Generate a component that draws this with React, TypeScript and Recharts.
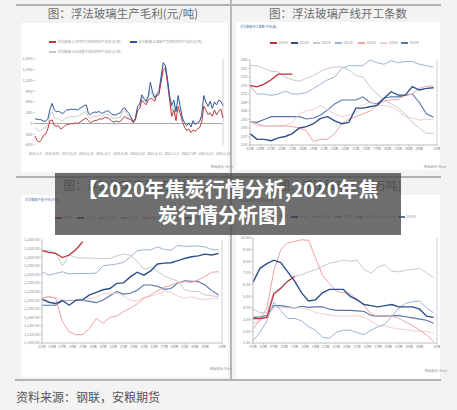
import React from 'react';
import { LineChart, Line, XAxis, YAxis, ReferenceLine } from 'recharts';

// ---- 图1 生产毛利 (元/吨), 每个点约4.75周 ----
const profitDates = ['2016/1/8', '2016/9/30', '2017/6/23', '2018/3/16', '2018/12/7', '2019/8/30', '2020/5/22', '2021/2/12', '2021/11/5', '2022/7/29', '2023/4/21', '2024/1/12'];
const profitNames = ['浮法玻璃:以天然气为燃料的生产毛利(元/吨)', '浮法玻璃:以煤制气为燃料的生产毛利(元/吨)', '浮法玻璃:以石油焦为燃料的生产毛利(元/吨)'];
const profitGas = [
    -350, -480, -520, -450, -330, -300, -150, 80, 100, -50,
    -80, -60, -150, -120, -60, -30, -20, 0, -10, 20,
    0, 40, 80, 120, 150, 80, 20, 60, 80, 90,
    130, 120, 150, 170, 160, 120, 60, 40, 70, 50,
    60, 130, 200, 150, 130, 100, 20, 100, 350, 420,
    650, 580, 520, 650, 700, 680, 620, 780, 800, 1150,
    1480, 1550, 1150, 650, 200, 380, 80, 480, 280, 60,
    -100, -200, -150, -250, -180, -220, -150, -120, 30, 480,
    380, 250, 300, 200, 380, 240, 350, 400, 150,
];
const profitCoal = [
    130, 120, 110, 100, 70, 60, 130, 390, 560, 380,
    330, 340, 310, 280, 330, 390, 380, 400, 390, 400,
    380, 420, 460, 500, 520, 280, 250, 300, 320, 310,
    340, 280, 300, 330, 360, 320, 250, 240, 240, 280,
    300, 410, 440, 350, 280, 170, 50, 150, 480, 540,
    800, 700, 620, 760, 1150, 880, 720, 820, 900, 1300,
    1700, 1620, 1250, 780, 500, 650, 330, 780, 470, 150,
    30, -60, 20, -100, 80, -30, 30, 50, 230, 780,
    600, 480, 620, 420, 600, 520, 650, 620, 500,
];
const profitPetcoke = [
    -110, -180, -205, -175, -130, -120, -10, 235, 330, 165,
    125, 140, 80, 80, 135, 180, 180, 200, 190, 210,
    190, 230, 270, 310, 335, 180, 135, 180, 200, 200,
    235, 200, 225, 250, 260, 220, 155, 140, 155, 165,
    180, 330, 380, 250, 200, 135, 40, 125, 415, 480,
    725, 640, 570, 705, 925, 780, 670, 800, 850, 1225,
    1590, 1585, 1200, 715, 350, 515, 205,
];
const profitTicks = [-600, -300, 0, 300, 600, 900, 1200, 1500, 1800];

// ---- 周度数据 (奇数周) ----
const weeks = [1, 3, 5, 7, 9, 11, 13, 15, 17, 19, 21, 23, 25, 27, 29, 31, 33, 35, 37, 39, 41, 43, 45, 47, 49, 51, 53];
const weekTicks = [1, 4, 7, 10, 13, 16, 19, 22, 25, 28, 31, 34, 37, 40, 43, 46, 49, 54];
const years = ['2024年', '2023年', '2022年', '2021年', '2020年', '2019年', '2018年'];
const yearColors = ['#b8323a', '#2e4e8a', '#c9c9c9', '#9fb2d4', '#eda3a6', '#f4cfd0', '#5675a9'];
const yearWidths = [1.3, 1.4, 1, 1, 1, 1, 1.1];

// 图2 产线开工条数
const lines2024 = [255, 254.5, 255.5, 257, 259, 259, 259];
const lines2023 = [238, 236, 236, 235.5, 236.5, 237, 238, 240, 240.5, 241.5, 243.4, 244, 242.5, 241.5, 242, 247, 247, 247.5, 248, 250.5, 252.8, 251.6, 251.6, 254.6, 253.4, 254, 254.2];
const lines2022 = [262, 262, 261, 260, 259.8, 258, 257, 256.5, 257.5, 258.5, 260, 261, 261.5, 261.6, 260.5, 258.5, 258, 254.6, 252, 249.9, 248.5, 247, 245, 242, 240, 238.1, 238.1];
const lines2021 = [254.8, 252, 252, 251.5, 252, 253, 252, 252, 252.5, 254, 255.5, 257, 258, 261, 262, 262, 262, 264, 263, 262.5, 263.8, 263, 263.5, 263.5, 262.5, 262, 261.5];
const lines2020 = [242.2, 241.5, 240.7, 240.7, 240.7, 240.7, 240.5, 240, 239, 235.2, 236, 236, 238, 241.5, 243, 244, 245, 246, 248, 249.5, 250, 250, 251.6, 252, 254, 254.8, 254.8];
const lines2019 = [242.2, 240.8, 240.7, 240.7, 240.7, 241, 241.8, 245, 246, 246.5, 247.8, 246.5, 245, 244, 244.5, 245.5, 248, 249.3, 248, 248, 247.5, 246, 244, 243.5, 242.8, 243, 243];
const lines2018 = [242.2, 242, 243, 244, 244, 244, 244, 244, 243.2, 243.5, 244.6, 246.4, 248.5, 249.9, 249.9, 249.9, 251, 249, 248.5, 250.5, 251, 251, 251.5, 252, 249, 245, 243.8];
const linesTicks = [234, 237, 240, 243, 246, 249, 252, 255, 258, 261, 264];

// 图3 周度产量
const output2024 = [1315, 1311, 1309, 1299, 1305, 1318, 1336];
const output2023 = [1202, 1195, 1192, 1199, 1188, 1200, 1201, 1212, 1218, 1224, 1227, 1239, 1240, 1254, 1265, 1258, 1268, 1284, 1286, 1287, 1292, 1297, 1301, 1303, 1307, 1305, 1309];
const output2022 = [1316, 1315, 1310, 1280, 1305, 1299, 1298, 1298, 1297, 1297, 1297, 1303, 1307, 1305, 1290, 1272, 1276, 1268, 1256, 1250, 1244, 1224, 1220, 1220, 1212, 1210, 1208];
const output2021 = [1266, 1258, 1262, 1266, 1261, 1262, 1262, 1262, 1263, 1280, 1282, 1284, 1288, 1300, 1315, 1317, 1317, 1324, 1318, 1316, 1328, 1325, 1326, 1326, 1324, 1318, 1317];
const output2020 = [1204, 1209, 1204, 1150, 1126, 1119, 1120, 1134, 1157, 1146, 1160, 1163, 1173, 1181, 1191, 1204, 1212, 1222, 1230, 1235, 1241, 1243, 1241, 1247, 1255, 1265, 1266];
const output2019 = [1205, 1206, 1206, 1200, 1200, 1200, 1200, 1203, 1206, 1215, 1216, 1216, 1210, 1200, 1198, 1206, 1209, 1214, 1220, 1218, 1210, 1204, 1208, 1203, 1201, 1203, 1204];
const output2018 = [1188, 1188, 1188, 1198, 1199, 1199, 1199, 1197, 1194, 1200, 1210, 1220, 1214, 1216, 1223, 1235, 1235, 1232, 1225, 1227, 1240, 1245, 1244, 1243, 1235, 1222, 1212];
const outputTicks = [1100, 1120, 1140, 1160, 1180, 1200, 1220, 1240, 1260, 1280, 1300, 1320, 1340];

// 图4 库存
const stock2024 = [3.1, 3.1, 3.2, 5.2, 5.7, 6.3, 6.7];
const stock2023 = [6.2, 7.4, 7.8, 8.1, 7.9, 7.1, 6.3, 5.3, 4.6, 4.7, 5.3, 5.6, 5.6, 5.6, 5.0, 4.7, 4.3, 4.2, 4.1, 4.2, 4.3, 4.1, 4.1, 4.1, 3.9, 3.3, 3.2];
const stock2022 = [3.9, 3.6, 3.6, 5.4, 5.7, 6.3, 6.7, 6.85, 7.1, 7.3, 7.55, 7.85, 7.95, 8.1, 8.0, 8.1, 7.3, 7.0, 7.5, 7.7, 7.15, 7.1, 7.25, 7.3, 7.4, 7.0, 6.6];
const stock2021 = [1.2, 1.9, 2.9, 4.5, 3.8, 3.1, 3.1, 2.9, 2.4, 2.1, 1.5, 1.4, 1.9, 2.1, 2.1, 1.9, 1.7, 2.1, 2.4, 2.6, 3.3, 4.0, 4.4, 4.55, 4.6, 4.0, 3.6];
const stock2020 = [2.2, 3.0, 4.0, 7.2, 9.0, 9.6, 9.7, 9.85, 9.8, 8.3, 6.8, 6.1, 5.45, 5.3, 5.2, 4.75, 4.2, 3.5, 3.3, 3.3, 3.35, 3.1, 2.8, 2.5, 2.1, 1.7, 1.15];
const stock2019 = [2.7, 2.85, 3.3, 4.0, 4.05, 4.0, 4.0, 4.0, 3.9, 3.6, 3.5, 3.4, 3.3, 3.3, 3.3, 3.35, 3.2, 2.9, 2.5, 2.45, 2.3, 2.2, 2.15, 2.05, 2.0, 2.0, 1.85];
const stock2018 = [3.2, 3.25, 3.35, 4.2, 4.2, 4.1, 4.0, 4.15, 4.05, 4.1, 4.1, 3.9, 3.8, 3.8, 3.8, 3.75, 3.7, 3.35, 3.3, 3.3, 3.35, 3.35, 3.25, 3.15, 3.05, 2.95, 2.7];
const stockTicks = [1, 2, 3, 4, 5, 6, 7, 8, 9, 10];

const FONT = "'Noto Sans CJK SC', 'Noto Sans', sans-serif";
const tickStyle = { fontSize: 4, fill: '#8c8c8c', fontFamily: FONT };

const profitData = profitCoal.map((_, i) => ({
    x: i,
    gas: profitGas[i],
    coal: profitCoal[i],
    petcoke: i < profitPetcoke.length ? profitPetcoke[i] : null,
}));

const buildWeekly = (series: number[][]) =>
    weeks.map((w, i) => {
        const row: Record<string, number | null> = { x: w };
        series.forEach((s, k) => { row['s' + k] = i < s.length ? s[i] : null; });
        return row;
    });

const linesData = buildWeekly([lines2024, lines2023, lines2022, lines2021, lines2020, lines2019, lines2018]);
const outputData = buildWeekly([output2024, output2023, output2022, output2021, output2020, output2019, output2018]);
const stockData = buildWeekly([stock2024, stock2023, stock2022, stock2021, stock2020, stock2019, stock2018]);

const weekLabel = (w: number) => (w < 10 ? '0' : '') + w + '周';

interface WeeklyProps {
    left: number; top: number; width: number; height: number;
    data: Record<string, number | null>[];
    yTicks: number[];
    yFmt: (v: number) => string;
    yWidth: number;
    margin: { top: number; right: number; bottom: number; left: number };
}

const WeeklyChart: React.FC<WeeklyProps> = ({ left, top, width, height, data, yTicks, yFmt, yWidth, margin }) => (
    <div style={{ position: 'absolute', left, top }}>
        <LineChart width={width} height={height} data={data} margin={margin}>
            <XAxis
                dataKey="x" type="number" domain={[1, 54]} ticks={weekTicks} interval={0}
                tickFormatter={weekLabel} tick={{ ...tickStyle, fontSize: 3.6 }} height={10}
                stroke="#bdbdbd" tickSize={1.5} tickMargin={1}
            />
            <YAxis
                type="number" domain={[yTicks[0], yTicks[yTicks.length - 1]]} ticks={yTicks} interval={0}
                tickFormatter={yFmt} tick={tickStyle} width={yWidth}
                stroke="#bdbdbd" tickSize={1.5} tickMargin={1}
            />
            <ReferenceLine x={54} stroke="#cfcfcf" />
            {[6, 5, 4, 3, 2, 1, 0].map(k => (
                <Line key={k} dataKey={'s' + k} stroke={yearColors[k]} strokeWidth={yearWidths[k]}
                    dot={false} isAnimationActive={false} type="linear" />
            ))}
        </LineChart>
    </div>
);

const YearLegend: React.FC<{ xs: number[]; y: number }> = ({ xs, y }) => (
    <>
        {years.map((name, k) => (
            <div key={name} style={{ position: 'absolute', left: xs[k], top: y - 2, height: 4, display: 'flex', alignItems: 'center' }}>
                <div style={{ width: 7, height: yearWidths[k] + 0.3, background: yearColors[k] }} />
                <span style={{ fontSize: 3.1, color: '#9a9a9a', marginLeft: 1.2, lineHeight: '4px', whiteSpace: 'nowrap' }}>{name}</span>
            </div>
        ))}
    </>
);

const Small: React.FC<{ x: number; y: number; color?: string; size?: number; children: React.ReactNode }> = ({ x, y, color = '#9a9a9a', size = 3.2, children }) => (
    <div style={{ position: 'absolute', left: x, top: y, fontSize: size, lineHeight: '5px', color, whiteSpace: 'nowrap' }}>{children}</div>
);

const Title: React.FC<{ cx: number; y: number; text: string }> = ({ cx, y, text }) => (
    <div style={{ position: 'absolute', left: cx - 110, width: 220, top: y, textAlign: 'center', fontSize: 11.5, lineHeight: '13px', color: '#6b6b6b' }}>{text}</div>
);

const Panel: React.FC<{ x: number; y: number; w: number; h: number }> = ({ x, y, w, h }) => (
    <div style={{ position: 'absolute', left: x, top: y, width: w, height: h, background: '#ffffff' }} />
);

export default function App() {
    const profitLegend = [
        { x: 49, y: 42, color: '#c0393d', name: profitNames[0] },
        { x: 130, y: 42, color: '#2f5597', name: profitNames[1] },
        { x: 49, y: 52, color: '#c8c8c8', name: profitNames[2] },
    ];
    return (
        <div style={{ position: 'absolute', left: 0, top: 0, width: 457, height: 410, background: '#f3f3f3', fontFamily: FONT, overflow: 'hidden' }}>
            {/* frame lines */}
            <div style={{ position: 'absolute', left: 16, top: 4, width: 425, height: 1.5, background: '#b3b3b3' }} />
            <div style={{ position: 'absolute', left: 16, top: 176, width: 425, height: 1.5, background: '#b3b3b3' }} />
            <div style={{ position: 'absolute', left: 15, top: 379, width: 426, height: 1.5, background: '#b3b3b3' }} />
            <div style={{ position: 'absolute', left: 230, top: 0, width: 1.5, height: 380, background: '#b8b8b8' }} />

            <Panel x={21} y={23} w={207} h={149} />
            <Panel x={236} y={22} w={204} h={148} />
            <Panel x={21} y={195} w={207} h={182} />
            <Panel x={236} y={195} w={204} h={184} />

            <Title cx={123} y={7} text="图：浮法玻璃生产毛利(元/吨)" />
            <Title cx={338} y={7} text="图：浮法玻璃产线开工条数" />
            <Title cx={125} y={179} text="图：浮法玻璃产量(万吨)" />
            <Title cx={340} y={179} text="图：浮法玻璃库存(万吨)" />

            {/* chart 1 */}
            {profitLegend.map(l => (
                <div key={l.name} style={{ position: 'absolute', left: l.x, top: l.y - 2, height: 4, display: 'flex', alignItems: 'center' }}>
                    <div style={{ width: 7, height: 1.3, background: l.color }} />
                    <span style={{ fontSize: 3.3, color: '#9a9a9a', marginLeft: 1.5, lineHeight: '4px', whiteSpace: 'nowrap' }}>{l.name}</span>
                </div>
            ))}
            <div style={{ position: 'absolute', left: 21, top: 23 }}>
                <LineChart width={216} height={149} data={profitData} margin={{ top: 36, right: 14, bottom: 17, left: 0 }}>
                    <XAxis
                        dataKey="x" type="number" domain={[0, 88]} ticks={[0, 8, 16, 24, 32, 40, 48, 56, 64, 72, 80, 88]} interval={0}
                        tickFormatter={(v: number) => profitDates[v / 8]} tick={{ ...tickStyle, fontSize: 3.1 }} height={10}
                        axisLine={false} tickLine={false} tickMargin={2}
                    />
                    <YAxis
                        type="number" domain={[-600, 1800]} ticks={profitTicks} interval={0}
                        tickFormatter={(v: number) => v.toLocaleString('en-US')} tick={tickStyle} width={14}
                        axisLine={false} stroke="#bdbdbd" tickSize={1.5} tickMargin={1}
                    />
                    <ReferenceLine y={0} stroke="#a8a8a8" />
                    <ReferenceLine x={88} stroke="#cfcfcf" />
                    <Line dataKey="petcoke" stroke="#cbcbcb" strokeWidth={1} dot={false} isAnimationActive={false} />
                    <Line dataKey="gas" stroke="#c0393d" strokeWidth={1} dot={false} isAnimationActive={false} />
                    <Line dataKey="coal" stroke="#2f5597" strokeWidth={1} dot={false} isAnimationActive={false} />
                </LineChart>
            </div>
            <Small x={211} y={164}>数据来源: Wind</Small>

            {/* chart 2 */}
            <Small x={240} y={25} color="#4a6ea8" size={3}>浮法玻璃:开工条数:中国(条)</Small>
            <YearLegend xs={[270, 291, 313, 335, 358, 380, 401]} y={43} />
            <WeeklyChart left={236} top={22} width={204} height={148} data={linesData}
                yTicks={linesTicks} yFmt={(v) => String(v)} yWidth={14}
                margin={{ top: 38, right: 3, bottom: 15, left: 0 }} />
            <Small x={424} y={164}>数据来源: Wind</Small>

            {/* chart 3 */}
            <Small x={25} y={198} color="#4a6ea8" size={3}>浮法玻璃:产量:中国(万吨)</Small>
            <YearLegend xs={[55, 77, 98, 120, 142, 163, 185]} y={218} />
            <WeeklyChart left={21} top={195} width={207} height={183} data={outputData}
                yTicks={outputTicks} yFmt={(v) => v.toLocaleString('en-US', { minimumFractionDigits: 2 })} yWidth={21}
                margin={{ top: 45, right: 6, bottom: 25, left: 0 }} />
            <Small x={210} y={366}>数据来源: Wind</Small>

            {/* chart 4 */}
            <Small x={240} y={199} color="#4a6ea8" size={3}>浮法玻璃:库存:中国(万吨)</Small>
            <YearLegend xs={[270, 291, 313, 335, 356, 378, 398]} y={217} />
            <WeeklyChart left={236} top={195} width={204} height={185} data={stockData}
                yTicks={stockTicks} yFmt={(v) => v.toFixed(2)} yWidth={17}
                margin={{ top: 43, right: 3, bottom: 27, left: 0 }} />
            <Small x={425} y={368}>数据来源: Wind</Small>

            <div style={{ position: 'absolute', left: 16, top: 389, fontSize: 12, lineHeight: '16px', color: '#555555' }}>资料来源：钢联，安粮期货</div>

            {/* banner */}
            <div style={{
                position: 'absolute', left: 55, top: 173, width: 346, height: 62, background: 'rgba(70,70,70,0.78)',
                display: 'flex', flexDirection: 'column', alignItems: 'center', justifyContent: 'center', paddingBottom: 4, boxSizing: 'border-box',
                color: '#ffffff', fontSize: 20, fontWeight: 700, lineHeight: '26px', whiteSpace: 'nowrap',
            }}>
                <div>【2020年焦炭行情分析,2020年焦</div>
                <div>炭行情分析图】</div>
            </div>
        </div>
    );
}
